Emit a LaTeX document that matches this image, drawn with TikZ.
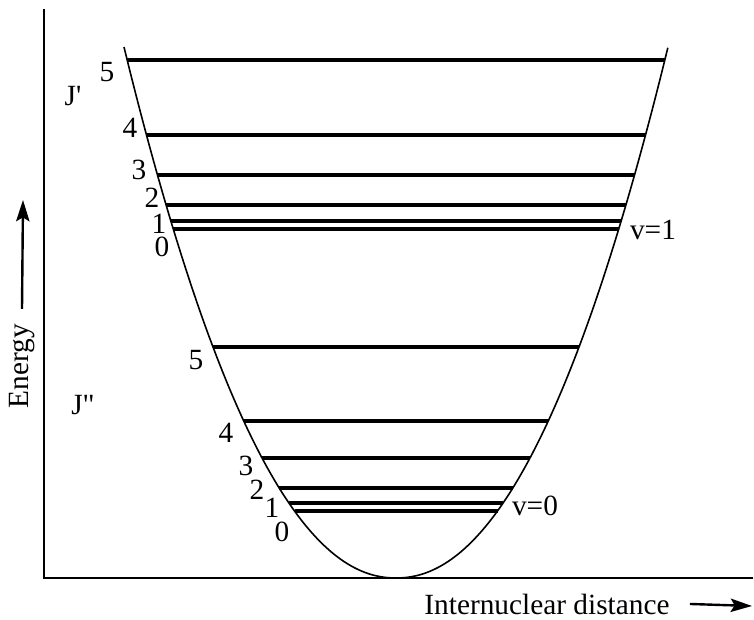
\documentclass[tikz,border=0pt]{standalone}
\usepackage{fontspec}
\setmainfont{Liberation Serif}
\usetikzlibrary{arrows.meta}

\begin{document}
\begin{tikzpicture}[x=75pt, y=75pt,
        level/.style={line width=2.3pt},
        lbl/.style={inner sep=0pt, font=\fontsize{22}{26}\selectfont},
        arr/.style={line width=1.8pt, -{Stealth[length=16pt, width=10pt, inset=3pt]}}]

        \useasboundingbox (0,0) rectangle (7.54,6.19);

        % axes
        \draw[line width=1.8pt] (0.44,6.10) -- (0.44,0.41) -- (7.53,0.41);

        % potential well
        \draw[line width=1.2pt, domain=-2.72:2.72, samples=120, smooth]
            plot ({3.96+\x}, {0.41+0.6494*pow(abs(\x),2.1)});

        % rotational levels, v=1 and v=0
        \foreach \ly in {5.59,4.84,4.44,4.14,3.98,3.90,2.72,1.98,1.61,1.31,1.16,1.08} {
            \pgfmathsetmacro\hw{pow((\ly-0.41)/0.6494,1/2.1)}
            \draw[level] ({3.96-\hw},\ly) -- ({3.96+\hw},\ly);
        }

        \node[lbl] (jup) at (0.73,5.23) {J\textquotesingle};
        \node[lbl] (up5) at (1.07,5.47) {5};
        \node[lbl] (up4) at (1.30,4.91) {4};
        \node[lbl] (up3) at (1.39,4.49) {3};
        \node[lbl] (up2) at (1.52,4.21) {2};
        \node[lbl] (up1) at (1.59,3.95) {1};
        \node[lbl] (up0) at (1.62,3.72) {0};
        \node[lbl] (vone) at (6.53,3.89) {v=1};

        \node[lbl] (jlo) at (0.83,2.14) {J\textquotedbl};
        \node[lbl] (lo5) at (1.96,2.59) {5};
        \node[lbl] (lo4) at (2.26,1.86) {4};
        \node[lbl] (lo3) at (2.46,1.53) {3};
        \node[lbl] (lo2) at (2.57,1.29) {2};
        \node[lbl] (lo1) at (2.72,1.11) {1};
        \node[lbl] (lo0) at (2.82,0.87) {0};
        \node[lbl] (vzero) at (5.35,1.13) {v=0};

        % axis labels
        \node[lbl, rotate=90] (energy) at (0.22,2.53) {Energy};
        \node[lbl, anchor=base] (dist) at (5.47,0.05) {Internuclear distance};

        \coordinate (etip) at (0.23,4.19);
        \coordinate (dtip) at (7.52,0.13);
        \draw[arr] ([yshift=11pt]energy.east) -- (etip);
        \draw[arr] ([xshift=15pt]dist.east) -- (dtip);
    \end{tikzpicture}
\end{document}
